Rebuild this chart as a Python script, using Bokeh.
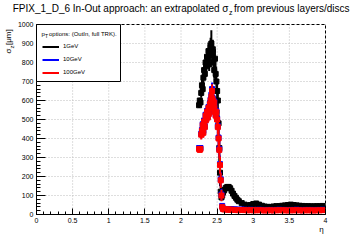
import numpy as np
from bokeh.plotting import figure
from bokeh.models import (Range1d, FixedTicker, Label, Legend, LegendItem,
                          ColumnDataSource, BoxAnnotation)
from bokeh.embed import file_html
from bokeh.resources import INLINE

# ---------------- data ----------------
eta = [2.25, 2.26, 2.27, 2.28, 2.29, 2.30, 2.31, 2.32, 2.33, 2.34,
       2.35, 2.36, 2.37, 2.38, 2.39, 2.40, 2.41, 2.42, 2.43, 2.44,
       2.45, 2.46, 2.47, 2.48, 2.49, 2.50, 2.51, 2.52, 2.53, 2.54,
       2.55, 2.56, 2.57, 2.58, 2.59, 2.60,
       2.62, 2.64, 2.66, 2.68, 2.70, 2.72, 2.74, 2.76, 2.78, 2.80,
       2.84, 2.88, 2.92, 2.96, 3.00, 3.04, 3.08, 3.12, 3.16, 3.20,
       3.24, 3.28, 3.32, 3.36, 3.40, 3.44, 3.48, 3.52, 3.56, 3.60,
       3.64, 3.68, 3.72, 3.76, 3.80, 3.84, 3.88, 3.92, 3.96]

sigma_1gev = [575, 600, 590, 640, 680, 660, 720, 760, 740, 800,
              780, 830, 810, 860, 790, 850, 880, 900, 840, 870,
              800, 760, 820, 740, 700, 650, 600, 480, 350, 220,
              120, 90, 100, 115, 125, 130,
              140, 145, 145, 138, 125, 110, 98, 88, 78, 70,
              60, 52, 48, 50, 55, 58, 52, 46, 42, 40,
              40, 42, 44, 44, 46, 48, 50, 52, 50, 48,
              46, 45, 44, 44, 43, 43, 44, 44, 45]
err_1gev = [15, 15, 20, 25, 30, 25, 30, 35, 30, 35,
            30, 40, 35, 45, 35, 45, 50, 70, 45, 50,
            40, 45, 50, 45, 40, 40, 45, 70, 70, 70,
            35, 15, 12, 12, 12, 12,
            12, 12, 12, 12, 10, 10, 10, 10, 8, 8,
            8, 7, 7, 7, 8, 8, 7, 6, 6, 6,
            6, 6, 6, 6, 6, 7, 7, 7, 7, 6,
            6, 6, 6, 6, 6, 6, 6, 6, 6]

sigma_10gev = [350, 345, 350, 425, 445, 475, 440, 495, 465, 525,
               505, 545, 515, 565, 540, 585, 605, 630, 660, 610,
               565, 595, 545, 525, 545, 505, 465, 405, 345, 265,
               185, 105, 45, 32, 30, 29,
               29, 28, 28, 27, 27, 26, 26, 26, 25, 25,
               26, 25, 24, 25, 24, 24, 25, 24, 23, 24,
               24, 23, 24, 25, 24, 24, 23, 24, 24, 25,
               24, 23, 24, 24, 24, 23, 24, 24, 25]
err_10gev = [10, 10, 10, 25, 25, 30, 25, 30, 25, 30,
             25, 30, 30, 35, 30, 35, 35, 35, 35, 35,
             30, 35, 30, 30, 35, 35, 40, 45, 45, 45,
             40, 30, 10, 5, 5, 5,
             5, 5, 5, 5, 5, 5, 5, 5, 5, 5,
             4, 4, 4, 4, 4, 4, 4, 4, 4, 4,
             4, 4, 4, 4, 4, 4, 4, 4, 4, 4,
             4, 4, 4, 4, 4, 4, 4, 4, 4]

sigma_100gev = [345, 340, 345, 420, 440, 470, 430, 490, 460, 520,
                500, 540, 510, 560, 530, 580, 600, 620, 650, 600,
                560, 590, 540, 520, 540, 500, 460, 400, 340, 260,
                180, 100, 40, 30, 28, 27,
                27, 26, 26, 25, 25, 24, 24, 24, 23, 23,
                24, 23, 22, 23, 22, 22, 23, 22, 21, 22,
                22, 21, 22, 23, 22, 22, 21, 22, 22, 23,
                22, 21, 22, 22, 22, 21, 22, 22, 23]
err_100gev = [10, 10, 10, 25, 25, 30, 25, 30, 25, 30,
              25, 30, 30, 35, 30, 35, 35, 35, 35, 35,
              30, 35, 30, 30, 35, 35, 40, 45, 45, 45,
              40, 30, 10, 5, 5, 5,
              5, 5, 5, 5, 5, 5, 5, 5, 5, 5,
              4, 4, 4, 4, 4, 4, 4, 4, 4, 4,
              4, 4, 4, 4, 4, 4, 4, 4, 4, 4,
              4, 4, 4, 4, 4, 4, 4, 4, 4]

series_names = ["1GeV", "10GeV", "100GeV"]
series_colors = ["black", "#0000ff", "#ff0000"]

x_ticks = [0, 0.5, 1, 1.5, 2, 2.5, 3, 3.5, 4]
x_tick_labels = ["0", "0.5", "1", "1.5", "2", "2.5", "3", "3.5", "4"]
y_ticks = [0, 100, 200, 300, 400, 500, 600, 700, 800, 900, 1000]

# ---------------- layout ----------------
# The frame covers the whole canvas; the axes sit at fixed data locations so
# that the title and axis titles (plain text labels) stay inside the frame.
W, H = 360, 240
FL, FR, FT, FB = 36, 325, 24, 214          # plot area in canvas pixels
X0, X1, Y0, Y1 = 0.0, 4.0, 0.0, 1000.0     # axis extents
FONT = "Liberation Sans"


def xd(px):
    return X0 + (px - FL) / (FR - FL) * (X1 - X0)


def yd(py):
    return Y0 + (FB - py) / (FB - FT) * (Y1 - Y0)


p = figure(width=W, height=H,
           x_range=Range1d(xd(0), xd(W)), y_range=Range1d(yd(H), yd(0)),
           output_backend="svg", toolbar_location=None,
           min_border=0, min_border_left=0, min_border_right=0,
           min_border_top=0, min_border_bottom=0)
p.title.visible = False
p.background_fill_color = "white"
p.border_fill_color = "white"
p.outline_line_color = None
p.xgrid.visible = False
p.ygrid.visible = False

p.xaxis.fixed_location = Y0
p.yaxis.fixed_location = X0
p.xaxis.bounds = (X0, X1)
p.yaxis.bounds = (Y0, Y1)
p.xaxis.ticker = FixedTicker(ticks=x_ticks,
                             minor_ticks=[round(0.1 * i, 1) for i in range(41)])
p.yaxis.ticker = FixedTicker(ticks=y_ticks, minor_ticks=list(range(0, 1001, 20)))
p.xaxis.major_label_overrides = {t: l for t, l in zip(x_ticks, x_tick_labels)}
for ax in (p.xaxis, p.yaxis):
    ax.axis_line_color = "black"
    ax.major_tick_line_color = "black"
    ax.minor_tick_line_color = "black"
    ax.major_tick_out = 0
    ax.minor_tick_out = 0
    ax.major_label_text_font = FONT
    ax.major_label_text_font_size = "7px"
    ax.major_label_text_color = "black"
    ax.major_label_standoff = 3
p.xaxis.major_tick_in = 6
p.xaxis.minor_tick_in = 3
p.yaxis.major_tick_in = 9
p.yaxis.minor_tick_in = 4

# dotted grid at the major ticks, limited to the plot area
p.segment(x0=x_ticks, y0=[Y0] * len(x_ticks), x1=x_ticks, y1=[Y1] * len(x_ticks),
          line_color="#bdbdbd", line_dash="1 2", line_width=1)
p.segment(x0=[X0] * len(y_ticks), y0=y_ticks, x1=[X1] * len(y_ticks), y1=y_ticks,
          line_color="#bdbdbd", line_dash="1 2", line_width=1)

eta_a = np.array(eta)
spacing = np.gradient(eta_a)
items = []
for name, color, vals, errs in zip(series_names, series_colors,
                                   [sigma_1gev, sigma_10gev, sigma_100gev],
                                   [err_1gev, err_10gev, err_100gev]):
    v = np.array(vals, dtype=float)
    e = np.array(errs, dtype=float)
    src = ColumnDataSource(dict(x=eta_a, y=v, lo=v - e, hi=v + e,
                                xl=eta_a - spacing / 2, xr=eta_a + spacing / 2))
    r = p.segment(x0="x", y0="lo", x1="x", y1="hi", source=src,
                  line_color=color, line_width=2)
    p.segment(x0="xl", y0="y", x1="xr", y1="y", source=src,
              line_color=color, line_width=2)
    p.scatter(x="x", y="y", source=src, marker="square", size=5,
              fill_color=color, line_color=color)
    items.append(LegendItem(label=name, renderers=[r]))

# dashed frame of the plot area (top / right visible; axes cover left / bottom)
p.add_layout(BoxAnnotation(left=X0, right=X1, top=Y1, bottom=Y0,
                           fill_alpha=0.0, line_color="black", line_width=1,
                           line_dash="3 2", line_alpha=1.0))

# legend frame (white box with black border)
p.add_layout(BoxAnnotation(left=X0, right=xd(120), top=Y1, bottom=yd(81),
                           fill_color="white", fill_alpha=1.0,
                           line_color="black", line_width=1, line_alpha=1.0))


def lab(text, px, py, size, align="left", angle=0.0):
    # positions given in canvas pixels (frame == canvas, y measured upward)
    p.add_layout(Label(x=float(px), y=float(H - py),
                       x_units="screen", y_units="screen",
                       text=text, text_font=FONT,
                       text_font_size=size, text_align=align,
                       text_baseline="middle", angle=float(angle),
                       text_color="black"))


# title with subscript
lab("FPIX_1_D_6 In-Out approach: an extrapolated \u03c3", 228, 8, "10px", "right")
lab("z", 228.5, 11.5, "7px")
lab(" from previous layers/discs", 233.5, 8, "10px")

# y axis label (rotated)
lab("\u03c3", 8, 53, "8px", "left", np.pi / 2)
lab("z", 11, 48, "6px", "left", np.pi / 2)
lab(" [\u03bcm]", 8, 44.5, "8px", "left", np.pi / 2)

# x axis label
lab("\u03b7", 321, 229, "8px", "center")

# legend header
lab("p", 41, 33, "6px")
lab("T", 44.4, 35, "5px")
lab(" options: (OutIn, full TRK).", 48.5, 33, "6px")

# legend entries (transparent, placed inside the white box); added last
legend = Legend(items=items, location=(42.0, float(H - 75.5)), margin=0, padding=0,
                spacing=6, glyph_width=17, glyph_height=7, label_width=40,
                label_height=7, label_standoff=4,
                label_text_font=FONT, label_text_font_size="6px",
                label_text_color="black",
                border_line_alpha=0.0, background_fill_alpha=0.0)
p.add_layout(legend)

open("out.html", "w").write(file_html(p, INLINE))
